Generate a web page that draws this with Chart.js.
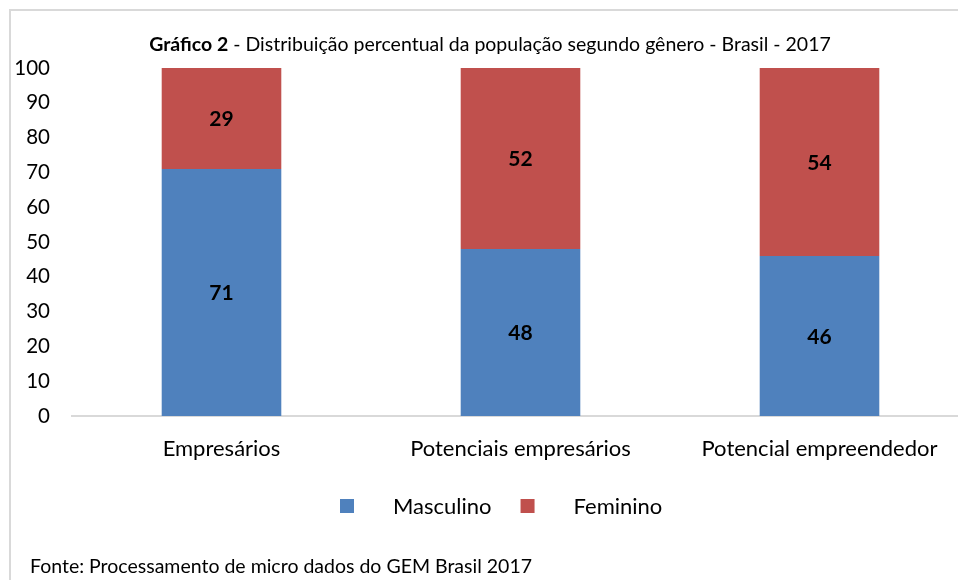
<!DOCTYPE html>
<html>
<head>
<meta charset="utf-8">
<script src="https://cdn.jsdelivr.net/npm/chart.js@4/dist/chart.umd.min.js"></script>
<style>
    html, body { margin: 0; padding: 0; background: #fff; overflow: hidden; }
    #quadro { position: relative; width: 958px; height: 580px; overflow: hidden; font-family: Lato, sans-serif; color: #000; }
    #moldura { position: absolute; left: 9px; top: 9px; width: 980px; height: 600px; border-top: 2px solid #d9d9d9; border-left: 2px solid #d9d9d9; }
    #titulo { position: absolute; left: 0; top: 32px; width: 980px; text-align: center; font-size: 19.5px; white-space: nowrap; }
    #fonte { position: absolute; left: 30px; top: 554px; font-size: 19.5px; white-space: nowrap; }
    #grafico { position: absolute; left: 0; top: 0; }
</style>
</head>
<body>
<div id="quadro">
    <div id="moldura"></div>
    <canvas id="grafico" width="1000" height="580"></canvas>
    <div id="titulo"><b>Gráfico 2</b> - Distribuição percentual da população segundo gênero - Brasil - 2017</div>
    <div id="fonte">Fonte: Processamento de micro dados do GEM Brasil 2017</div>
</div>
<script>
const categorias = ['Empresários', 'Potenciais empresários', 'Potencial empreendedor'];
const masculino = [71, 48, 46];
const feminino = [29, 52, 54];
const marcasY = [0, 10, 20, 30, 40, 50, 60, 70, 80, 90, 100];

const corAzul = '#4f81bd';
const corVermelha = '#c0504d';
const fonte = 'Lato, sans-serif';

// rótulos de valor no meio de cada segmento
const rotulosValores = {
    id: 'rotulosValores',
    afterDatasetsDraw(chart) {
        const ctx = chart.ctx;
        ctx.save();
        ctx.font = 'bold 21px ' + fonte;
        ctx.fillStyle = '#000';
        ctx.textAlign = 'center';
        ctx.textBaseline = 'middle';
        chart.data.datasets.forEach((ds, i) => {
            chart.getDatasetMeta(i).data.forEach((barra, j) => {
                const { x, y, base } = barra.getProps(['x', 'y', 'base'], true);
                ctx.fillText(String(ds.data[j]), x, (y + base) / 2 + 1);
            });
        });
        ctx.restore();
    }
};

// legenda no estilo do Excel (quadrado afastado do texto)
const legendaExcel = {
    id: 'legendaExcel',
    afterDraw(chart) {
        const ctx = chart.ctx;
        ctx.save();
        ctx.font = '22px ' + fonte;
        ctx.textBaseline = 'middle';
        let x = 340;
        const y = 506;
        chart.data.datasets.forEach((ds) => {
            ctx.fillStyle = ds.backgroundColor;
            ctx.fillRect(x, y - 7, 14, 14);
            x += 14 + 39;
            ctx.fillStyle = '#000';
            ctx.fillText(ds.label, x, y + 1);
            x += ctx.measureText(ds.label).width + 29;
        });
        ctx.restore();
    }
};

new Chart(document.getElementById('grafico'), {
    type: 'bar',
    data: {
        labels: categorias,
        datasets: [
            { label: 'Masculino', data: masculino, backgroundColor: corAzul },
            { label: 'Feminino', data: feminino, backgroundColor: corVermelha }
        ]
    },
    options: {
        responsive: false,
        animation: false,
        barPercentage: 0.4,
        categoryPercentage: 1,
        layout: { padding: { top: 68, right: 31, bottom: 104, left: 0 } },
        plugins: {
            legend: { display: false },
            title: { display: false },
            tooltip: { enabled: false }
        },
        scales: {
            x: {
                stacked: true,
                grid: { display: false },
                border: { color: '#d9d9d9', width: 2 },
                ticks: { color: '#000', font: { family: fonte, size: 22 }, padding: 12, maxRotation: 0 },
                afterFit: (s) => { s.height = 60; }
            },
            y: {
                stacked: true,
                min: 0,
                max: 100,
                grid: { display: false },
                border: { display: false },
                afterBuildTicks: (s) => { s.ticks = marcasY.map((v) => ({ value: v })); },
                ticks: { color: '#000', font: { family: fonte, size: 20.5 }, padding: 14 },
                afterFit: (s) => { s.width = 72; }
            }
        }
    },
    plugins: [rotulosValores, legendaExcel]
});
</script>
</body>
</html>
